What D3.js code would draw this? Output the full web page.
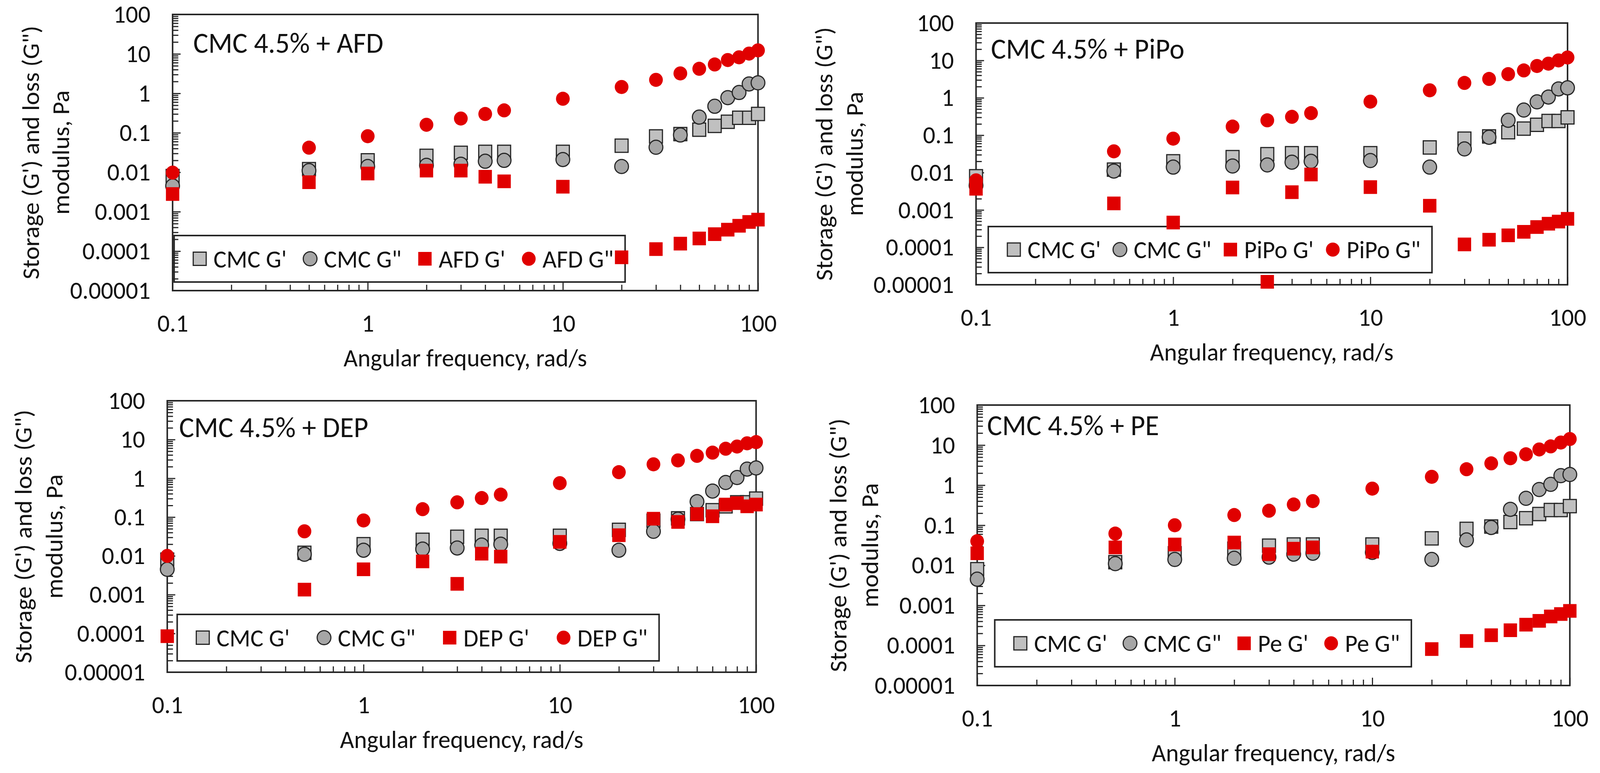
<!DOCTYPE html>
<html lang="en">
<head>
<meta charset="UTF-8">
<title>CMC 4.5% dynamic moduli</title>
<script src="https://d3js.org/d3.v7.min.js"></script>
<style>
    html, body { margin: 0; padding: 0; background: #fff; overflow: hidden; }
    svg { display: block; }
    svg text { font-family: Carlito, Calibri, 'Liberation Sans Narrow', Lato, 'Open Sans', sans-serif; fill: #111; }
</style>
</head>
<body>
<div id="chart"></div>
<script>
    // angular frequency, rad/s
    const freq = [0.1, 0.5, 1, 2, 3, 4, 5, 10, 20, 30, 40, 50, 60, 70, 80, 90, 100];

    // CMC 4.5% control (same in every panel)
    const cmcG1 = [0.008, 0.012, 0.020, 0.026, 0.031, 0.033, 0.033, 0.033, 0.047, 0.081, 0.093, 0.12, 0.15, 0.19, 0.24, 0.24, 0.30];
    const cmcG2 = [0.0045, 0.011, 0.014, 0.015, 0.016, 0.019, 0.020, 0.021, 0.014, 0.043, 0.088, 0.25, 0.47, 0.78, 1.05, 1.73, 1.85];

    const afdG1 = [0.0028, 0.0056, 0.0093, 0.011, 0.011, 0.0077, 0.0059, 0.0043, 0.00007, 0.000113, 0.000155, 0.00021, 0.00027, 0.00035, 0.00044, 0.00055, 0.00063];
    const afdG2 = [0.0098, 0.042, 0.082, 0.16, 0.23, 0.30, 0.37, 0.73, 1.45, 2.2, 3.2, 4.2, 5.4, 7.0, 8.2, 10.2, 12.3];

    const pipoG1 = [0.0037, 0.0015, 0.00046, 0.004, 0.000012, 0.003, 0.0089, 0.0041, 0.0013, 0.00012, 0.00016, 0.00021, 0.00026, 0.00035, 0.00043, 0.00049, 0.00058];
    const pipoG2 = [0.0062, 0.037, 0.081, 0.17, 0.25, 0.31, 0.39, 0.79, 1.59, 2.5, 3.2, 4.3, 5.4, 7.1, 8.2, 10, 12];

    const depG1 = [0.000085, 0.00135, 0.0045, 0.0072, 0.0019, 0.0114, 0.0096, 0.023, 0.034, 0.091, 0.075, 0.12, 0.105, 0.21, 0.23, 0.19, 0.21];
    const depG2 = [0.010, 0.043, 0.082, 0.16, 0.24, 0.31, 0.38, 0.75, 1.44, 2.3, 2.9, 3.8, 4.6, 5.8, 6.6, 8.0, 8.6];

    const peG1 = [0.020, 0.028, 0.033, 0.037, 0.019, 0.026, 0.028, 0.022, 0.000081, 0.000129, 0.00018, 0.00024, 0.00033, 0.00041, 0.00053, 0.00061, 0.00073];
    const peG2 = [0.040, 0.062, 0.10, 0.18, 0.23, 0.33, 0.40, 0.82, 1.62, 2.5, 3.5, 4.7, 5.9, 7.8, 9.3, 11.6, 14.2];

    const yTicks = [0.00001, 0.0001, 0.001, 0.01, 0.1, 1, 10, 100];
    const yTickLabels = ["0.00001", "0.0001", "0.001", "0.01", "0.1", "1", "10", "100"];
    const xTicks = [0.1, 1, 10, 100];
    const xTickLabels = ["0.1", "1", "10", "100"];

    const panelNotes = ["CMC 4.5% + AFD", "CMC 4.5% + PiPo", "CMC 4.5% + DEP", "CMC 4.5% + PE"];
    const panelKeys = ["AFD", "PiPo", "DEP", "Pe"];
    const panelG1 = [afdG1, pipoG1, depG1, peG1];
    const panelG2 = [afdG2, pipoG2, depG2, peG2];

    const yTitle = ["Storage (G') and loss (G\")", "modulus, Pa"];
    const xTitle = "Angular frequency, rad/s";

    // layout of each panel, in the 4190 x 1979 frame of the original figure
    const layout = [
        {left: 452,  right: 1985, top: 37,   bottom: 744,  legend: [456, 603, 1637, 722],    titleX: [80, 159],    note: [506, 135]},
        {left: 2556, right: 4105, top: 59,   bottom: 729,  legend: [2588, 580, 3750, 698],   titleX: [2157, 2237], note: [2595, 150]},
        {left: 438,  right: 1980, top: 1026, bottom: 1721, legend: [464, 1573, 1726, 1692],  titleX: [60, 141],    note: [469, 1119]},
        {left: 2559, right: 4111, top: 1037, bottom: 1755, legend: [2605, 1587, 3696, 1707], titleX: [2194, 2277], note: [2585, 1114]}
    ];

    const INK = "#262626";
    const RED = "#e00000";
    const styles = [
        {type: d3.symbolSquare, size: 34 * 34, fill: "#c0c0c0", stroke: INK},
        {type: d3.symbolCircle, size: Math.PI * 18 * 18, fill: "#a6a6a6", stroke: INK},
        {type: d3.symbolSquare, size: 35 * 35, fill: RED, stroke: "none"},
        {type: d3.symbolCircle, size: Math.PI * 18 * 18, fill: RED, stroke: "none"}
    ];

    // the browser window may be narrower than the figure: fit the figure to it
    const svg = d3.select("#chart")
        .append("svg")
        .attr("width", window.innerWidth || 4190)
        .attr("height", window.innerHeight || 1979)
        .attr("viewBox", "0 0 4190 1979")
        .attr("preserveAspectRatio", "none");

    const yMinor = [];
    for (let e = -5; e < 2; e++) for (let m = 2; m < 10; m++) yMinor.push(+(m * Math.pow(10, e)).toPrecision(3));
    const xMinor = [];
    for (let e = -1; e < 2; e++) for (let m = 2; m < 10; m++) xMinor.push(+(m * Math.pow(10, e)).toPrecision(3));

    function styleAxis(sel, fontSize) {
        sel.select(".domain").remove();
        sel.selectAll(".tick line").attr("stroke", INK).attr("stroke-width", 3);
        sel.selectAll(".tick text").attr("font-size", fontSize).attr("fill", "#111");
    }

    layout.forEach((p, i) => {
        const g = svg.append("g");
        const x = d3.scaleLog().domain([0.1, 100]).range([p.left, p.right]);
        const y = d3.scaleLog().domain([0.00001, 100]).range([p.bottom, p.top]);

        // y axis: major ticks + labels, minor ticks, all pointing inward
        g.append("g")
            .attr("transform", `translate(${p.left},0)`)
            .call(d3.axisLeft(y).tickValues(yTicks).tickSize(-21).tickSizeOuter(0).tickPadding(58)
                .tickFormat((d, k) => yTickLabels[k]))
            .call(s => styleAxis(s, 64));
        g.append("g")
            .attr("transform", `translate(${p.left},0)`)
            .call(d3.axisLeft(y).tickValues(yMinor).tickSize(-15).tickSizeOuter(0).tickFormat(""))
            .call(s => styleAxis(s, 0));

        // x axis
        g.append("g")
            .attr("transform", `translate(0,${p.bottom})`)
            .call(d3.axisBottom(x).tickValues(xTicks).tickSize(-20).tickSizeOuter(0).tickPadding(60)
                .tickFormat((d, k) => xTickLabels[k]))
            .call(s => styleAxis(s, 64));
        g.append("g")
            .attr("transform", `translate(0,${p.bottom})`)
            .call(d3.axisBottom(x).tickValues(xMinor).tickSize(-15).tickSizeOuter(0).tickFormat(""))
            .call(s => styleAxis(s, 0));

        // plot frame
        g.append("rect")
            .attr("x", p.left).attr("y", p.top)
            .attr("width", p.right - p.left).attr("height", p.bottom - p.top)
            .attr("fill", "none").attr("stroke", INK).attr("stroke-width", 4);

        // axis titles
        const cy = (p.top + p.bottom) / 2;
        yTitle.forEach((t, k) => {
            g.append("text")
                .attr("transform", `translate(${p.titleX[k]},${cy}) rotate(-90)`)
                .attr("text-anchor", "middle")
                .attr("dy", "0.35em")
                .attr("font-size", 64)
                .text(t);
        });
        g.append("text")
            .attr("x", (p.left + p.right) / 2)
            .attr("y", p.bottom + 172)
            .attr("dy", "0.35em")
            .attr("text-anchor", "middle")
            .attr("font-size", 64)
            .text(xTitle);

        // panel note
        g.append("text")
            .attr("x", p.note[0]).attr("y", p.note[1])
            .attr("font-size", 74)
            .text(panelNotes[i]);

        // legend
        const [l, t, r, b] = p.legend;
        g.append("rect")
            .attr("x", l).attr("y", t).attr("width", r - l).attr("height", b - t)
            .attr("fill", "none").attr("stroke", INK).attr("stroke-width", 4);
        const names = ["CMC G'", "CMC G\"", panelKeys[i] + " G'", panelKeys[i] + " G\""];
        const ly = (t + b) / 2;
        const items = names.map((n, k) => {
            const it = g.append("g");
            it.append("path")
                .attr("d", d3.symbol().type(styles[k].type).size(styles[k].size))
                .attr("fill", styles[k].fill)
                .attr("stroke", styles[k].stroke)
                .attr("stroke-width", 3);
            const tx = it.append("text")
                .attr("x", 36).attr("dy", "0.35em")
                .attr("font-size", 64)
                .text(n);
            return {g: it, w: 18 + 36 + tx.node().getComputedTextLength()};
        });
        const padL = 49, padR = 30;
        const total = d3.sum(items, d => d.w);
        const gap = (r - l - padL - padR - total) / (items.length - 1);
        let cx = l + padL;
        items.forEach(it => {
            it.g.attr("transform", `translate(${cx + 18},${ly})`);
            cx += it.w + gap;
        });

        // data points
        const series = [cmcG1, cmcG2, panelG1[i], panelG2[i]];
        series.forEach((vals, k) => {
            g.append("g")
                .selectAll("path")
                .data(vals.map((v, j) => [freq[j], v]))
                .join("path")
                .attr("transform", d => `translate(${x(d[0])},${y(d[1])})`)
                .attr("d", d3.symbol().type(styles[k].type).size(styles[k].size))
                .attr("fill", styles[k].fill)
                .attr("stroke", styles[k].stroke)
                .attr("stroke-width", 3);
        });
    });
</script>
</body>
</html>
